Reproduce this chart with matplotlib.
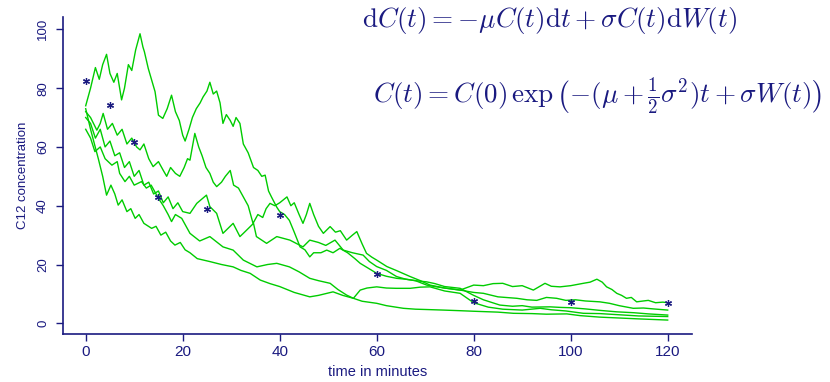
import matplotlib
matplotlib.use("Agg")
import matplotlib.pyplot as plt

plt.rcParams['mathtext.fontset'] = 'cm'
plt.rcParams['font.family'] = ['Liberation Sans', 'DejaVu Sans']

# ---------------- data ----------------
A_t = [0,1,2,2.8,3.5,4.3,5,5.8,6.5,7.4,8,8.8,9.5,10.3,11.2,11.8,12.1,12.9,14.3,15,15.9,16.8,17.7,18.5,19.3,20,20.5,21.3,22,22.8,23.6,24.2,25,25.6,26.3,27,27.7,28.3,29,29.8,30.4,31,31.8,32.5,33.5,34.6,35.5,36.3,37,37.7,38.3,39.4,40,41,42,43,44.2,45.2,46.2,47,48.5,49.7,51,52.4,54,55.5,56.6,58,60,62,64.1,66,68,70.3,72,74,77.2,80,82,85.4,88,90,92,95.7,98,100,103,106,109.5,113,116,120]
A_y = [74,80,87,83,88,91.5,85,82,85,76,80,88,86,93,98.5,94,92.4,86.7,78.8,70.8,69.7,73,77.6,72,69,64,62,66,70,73,75,77,79,82,78,79,75,68,71,69,67,70,68,61,58,53,52,50,50.4,45,43,39.5,38,37,35,31,26,25,22.6,24,24,24.9,24,25.5,24,22,20.4,19,17,16,15.3,15,14.5,14.1,13.5,12.5,11.9,9.5,8,6.2,5.8,6,5.5,5.6,5.4,5.3,4.9,4.4,3.9,3.6,3.2,2.8]

B_t = [0,1,2.3,3,3.6,4.5,5.5,6.5,7.5,8.5,9.5,10.5,11.2,12,13,13.9,15,16,16.7,17.5,18.5,19.4,20.3,21,21.5,22.5,23.3,24,24.8,25.6,26.3,27,28,28.8,29.8,30.5,31.5,32.5,33.5,34.5,35.5,36.5,37.2,38,39,40,41.5,42.3,43,44,44.8,45.5,46.2,47,48,49,50.4,51.5,52.5,53.8,55,55.9,57,57.9,59,60,62.1,64,66.9,69,71,74,77.2,80,82,84,86,88,90,92.3,94.7,96,97.8,100,102.6,104,105.4,106.5,107.4,108.5,109.5,110.5,111.5,112.5,113.6,115,116,117.5,119,120]
B_y = [72,70,65.7,68,71.4,66,68,64,66,61,63,60,59,61,56,53.3,55,52,50,53,51,50,53,56,55.5,64.6,60,57,53,51,48,46.5,48,50,52,47,46,43,40,34,37,36,39,40.8,40,41,43,40,41,37,34,37,40.8,37,33,30.6,32.9,31,31.5,28.3,30,31.2,27,23.8,22.5,21.5,19.3,18,15.9,14.5,13,12,11.3,13,12.8,13.5,13.6,12.5,12.8,11.3,13.6,12.6,12.4,12.8,13.6,14,15,14,12.4,11.5,10.2,9.5,8.5,8.8,7.3,7.6,7.8,7,7.2,7]

C_t = [0,1,2,3,4,5,6,7,8,9,10,11,12,13,14,15,16,17,18,19,20,21.5,22.9,24.9,25.6,27,28.3,30.4,31.8,32.5,34.6,35.2,37.3,39.4,42.1,44.8,46.2,48,49.5,51.4,53.1,55,57.2,58.5,60,62,64.1,66,68,70.3,72,74,77.2,80,82,85,88.9,91,93,95,97.1,99,101,103,106,108,110,112.9,115,117,120]
C_y = [70,68,63,66,60,62,57,58,53,55,50,52,47,48,44,45,41,43,39,41,38,37.4,40.8,43.6,39.7,37.4,30.6,34,29.5,30.6,34,29.5,27.2,29.5,28.3,26,28.3,27.5,26.5,28.3,24.9,24,23.2,21,19.3,18,15.9,15,14.5,13,12.5,12,11.3,10.5,10.2,9,8.5,8,7.8,8.8,8.5,7.8,8,7.6,7.3,6.8,6,5.1,5.2,4.9,4.5]

D_t = [0,1,1.9,3,4,5.4,6.5,7,8.1,9,10,11.5,12.5,13.5,15,16,17,17.7,18.5,19.8,21.5,23.5,25.6,28.3,30.4,32.5,35.3,37.5,39.4,42,44,45.6,46.2,48,50.4,52,53.8,55.2,56.6,58,60,62,64,66.9,69,71,74,77.2,80,83,86,90,93.7,96,99,102.6,106,110,114,117,120]
D_y = [66,63,58.4,60,56,53.8,55,51,48.2,50,47,48.2,46,47,42.5,40,37,34.6,37,35.7,30.6,28,29.5,26,24.9,21.5,19.2,20,20.4,19.2,17.5,15.9,15.3,14.5,13.6,11.5,9.6,8.5,11.3,12,12.4,12,11.9,11.9,12.3,12.4,11,10.2,7,5.5,4.8,4.5,5.1,4.6,4.2,3.4,3.3,2.9,2.5,2.4,2.3]

E_t = [0,1,2.6,3.5,4.3,5.2,6,6.7,7.5,8.5,9.3,10.2,11,12,13.6,14.5,15.5,16.5,17.5,18.4,19.5,20.5,21.5,23,25.6,28,30.4,32,33.9,36,38,40,43,46.2,48,51,53,55.2,57,60,62,65.5,68,70,73.7,77,80,85,88.2,92,95,99.2,102,106,110,114,117,120]
E_y = [73,66,56,50,43.6,47,44,40.2,42,38,39,35.7,37,34,32.3,33,30,31,28,26.6,27.5,25,24,22,21,20,19.2,18,17,14.7,13.5,12.5,10.5,9,9.5,10.7,9.5,8.5,7.5,6.8,6,5.1,4.8,4.7,4.5,4.3,4.1,3.8,3.4,3.3,3.1,3.2,2.6,2.1,1.8,1.5,1.3,1.1]

obs_t = [0, 5, 10, 15, 25, 40, 60, 80, 100, 120]
obs_y = [82.4, 74.2, 61.8, 43, 39, 37, 16.7, 7.7, 7.4, 6.8]

x_ticks = [0, 20, 40, 60, 80, 100, 120]
y_ticks = [0, 20, 40, 60, 80, 100]
x_label = "time in minutes"
y_label = "C12 concentration"
eq1 = r'$\mathrm{d}C(t) = -\mu C(t)\mathrm{d}t + \sigma C(t)\mathrm{d}W(t)$'
eq2 = r'$C(t) = C(0)\,\exp\left(-(\mu + \frac{1}{2}\sigma^2)t + \sigma W(t)\right)$'

# ---------------- plot ----------------
navy = '#1a1a80'
green = '#00cc00'

fig = plt.figure(figsize=(8.3, 3.82), dpi=100)
ax = fig.add_axes([63/830, 48/382, (691.7-63)/830, (334-17)/382])

for tt, yy in [(A_t, A_y), (B_t, B_y), (C_t, C_y), (D_t, D_y), (E_t, E_y)]:
    ax.plot(tt, yy, color=green, lw=1.0)

ax.plot(obs_t, obs_y, linestyle='none', marker=(6, 2, 0), ms=5, mew=0.9, color=navy)

ax.set_xlim(-4.68, 124.95)
ax.set_ylim(-3.64, 104.2)
ax.set_xticks(x_ticks)
ax.set_yticks(y_ticks)
ax.set_yticklabels([str(v) for v in y_ticks], rotation=90, va='center')
for s in ['top', 'right']:
    ax.spines[s].set_visible(False)
for s in ['left', 'bottom']:
    ax.spines[s].set_color(navy)
    ax.spines[s].set_linewidth(1.2)
ax.tick_params(axis='x', colors=navy, labelsize=11, length=5, width=1.0, pad=3)
ax.tick_params(axis='y', colors=navy, labelsize=9.5, length=5, width=1.0, pad=5)
ax.set_xlabel(x_label, color=navy, fontsize=10.5, labelpad=4)
ax.set_ylabel(y_label, color=navy, fontsize=9.5, labelpad=6)

fig.text(362/830, 1-20/382, eq1, color=navy, fontsize=19.5, ha='left', va='center')
fig.text(373/830, 1-97/382, eq2, color=navy, fontsize=19.5, ha='left', va='center')

fig.savefig('out.png', dpi=100)
